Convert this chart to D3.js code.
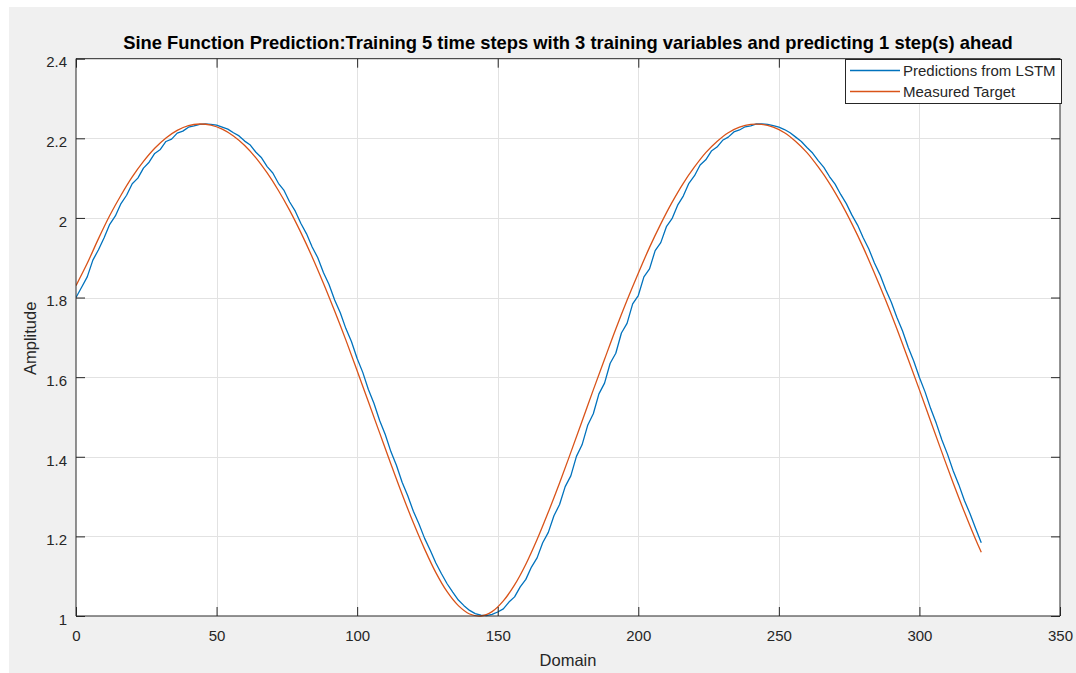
<!DOCTYPE html>
<html>
<head>
<meta charset="utf-8">
<script src="https://cdn.jsdelivr.net/npm/d3@7"></script>
<style>
  html, body { margin: 0; padding: 0; background: #ffffff; }
  svg { display: block; }
  text { font-family: "Liberation Sans", Arial, Helvetica, sans-serif; }
</style>
</head>
<body>
<svg id="chart" width="1076" height="673"></svg>
<script>
// ---------------- data ----------------
const titleText = "Sine Function Prediction:Training 5 time steps with 3 training variables and predicting 1 step(s) ahead";
const xLabel = "Domain";
const yLabel = "Amplitude";
const seriesNames = ["Predictions from LSTM", "Measured Target"];

const xTicks = [0, 50, 100, 150, 200, 250, 300, 350];
const yTicks = [1, 1.2, 1.4, 1.6, 1.8, 2, 2.2, 2.4];

// Measured target (smooth curve), sampled every 4 steps
const targetX = [0,4,8,12,16,20,24,28,32,36,40,44,48,52,56,60,64,68,72,76,80,84,88,92,96,100,
  104,108,112,116,120,124,128,132,136,140,144,148,152,156,160,164,168,172,176,180,184,188,192,196,200,
  204,208,212,216,220,224,228,232,236,240,244,248,252,256,260,264,268,272,276,280,284,288,292,296,300,
  304,308,312,316,320,322];
const targetY = [1.830,1.886,1.948,2.006,2.057,2.103,2.142,2.175,2.201,2.220,2.232,2.236,2.233,2.223,2.206,2.182,
  2.151,2.113,2.069,2.019,1.963,1.902,1.836,1.766,1.693,1.616,1.538,1.460,1.382,1.306,1.234,1.168,1.109,1.061,
  1.026,1.005,1.000,1.011,1.038,1.078,1.130,1.192,1.261,1.334,1.411,1.489,1.568,1.645,1.721,1.793,1.861,1.926,
  1.985,2.039,2.087,2.128,2.164,2.192,2.214,2.228,2.235,2.235,2.228,2.214,2.192,2.164,2.128,2.087,2.039,1.985,
  1.926,1.861,1.793,1.721,1.645,1.568,1.489,1.411,1.334,1.261,1.192,1.160];

// Predictions from LSTM (jagged), sampled every 2 steps
const predX = [0,2,4,6,8,10,12,14,16,18,20,22,24,26,28,30,32,34,36,38,40,42,44,46,48,50,52,54,56,58,60,
  62,64,66,68,70,72,74,76,78,80,82,84,86,88,90,92,94,96,98,100,102,104,106,108,110,112,114,116,118,120,
  122,124,126,128,130,132,134,136,138,140,142,144,146,148,150,152,154,156,158,160,162,164,166,168,170,
  172,174,176,178,180,182,184,186,188,190,192,194,196,198,200,202,204,206,208,210,212,214,216,218,220,
  222,224,226,228,230,232,234,236,238,240,242,244,246,248,250,252,254,256,258,260,262,264,266,268,270,
  272,274,276,278,280,282,284,286,288,290,292,294,296,298,300,302,304,306,308,310,312,314,316,318,320,322];
const predY = [1.800,1.826,1.852,1.894,1.920,1.950,1.984,2.005,2.036,2.057,2.086,2.100,2.125,2.140,2.162,2.172,
  2.192,2.198,2.213,2.218,2.228,2.231,2.235,2.236,2.235,2.233,2.228,2.223,2.214,2.206,2.193,2.183,2.165,2.151,
  2.129,2.113,2.087,2.069,2.040,2.017,1.986,1.960,1.927,1.900,1.863,1.833,1.794,1.762,1.722,1.689,1.647,1.612,
  1.569,1.534,1.491,1.456,1.413,1.378,1.336,1.302,1.263,1.231,1.195,1.165,1.133,1.106,1.081,1.060,1.040,1.026,
  1.014,1.006,1.002,1.001,1.004,1.010,1.018,1.035,1.048,1.073,1.092,1.123,1.146,1.184,1.210,1.252,1.280,1.325,
  1.352,1.401,1.430,1.479,1.508,1.558,1.585,1.635,1.660,1.711,1.735,1.784,1.805,1.852,1.872,1.918,1.938,1.978,
  1.998,2.032,2.055,2.087,2.106,2.133,2.146,2.168,2.178,2.195,2.203,2.216,2.221,2.229,2.231,2.236,2.236,2.235,
  2.232,2.228,2.222,2.214,2.203,2.192,2.177,2.163,2.144,2.127,2.104,2.085,2.059,2.036,2.007,1.982,1.950,1.922,
  1.887,1.857,1.820,1.788,1.750,1.716,1.675,1.640,1.599,1.563,1.521,1.484,1.442,1.406,1.365,1.330,1.290,1.257,
  1.220,1.184];

const colors = ["#0072BD", "#D95319"];

// ---------------- layout ----------------
const W = 1076, H = 673;
const plot = { left: 76, right: 1060, top: 58.7, bottom: 616 };
const axisColor = "#262626";
const gridColor = "#e2e2e2";
const tickLen = 9;

const svg = d3.select("#chart");

// figure background
svg.append("rect").attr("x", 9).attr("y", 7).attr("width", W - 9).attr("height", H - 7).attr("fill", "#f0f0f0");

const x = d3.scaleLinear().domain([0, 350]).range([plot.left, plot.right]);
const y = d3.scaleLinear().domain([1, 2.4]).range([plot.bottom, plot.top]);

// plot area
svg.append("rect")
  .attr("x", plot.left).attr("y", plot.top)
  .attr("width", plot.right - plot.left).attr("height", plot.bottom - plot.top)
  .attr("fill", "#ffffff");

// grid
const grid = svg.append("g").attr("stroke", gridColor).attr("stroke-width", 1).attr("shape-rendering", "crispEdges");
grid.selectAll("line.gx").data(xTicks.slice(1, -1)).join("line")
  .attr("x1", d => Math.round(x(d)) + 0.5).attr("x2", d => Math.round(x(d)) + 0.5)
  .attr("y1", plot.top).attr("y2", plot.bottom);
grid.selectAll("line.gy").data(yTicks.slice(1, -1)).join("line")
  .attr("x1", plot.left).attr("x2", plot.right)
  .attr("y1", d => Math.round(y(d)) + 0.5).attr("y2", d => Math.round(y(d)) + 0.5);

// series
const clipId = "plotclip";
svg.append("clipPath").attr("id", clipId).append("rect")
  .attr("x", plot.left).attr("y", plot.top - 2)
  .attr("width", plot.right - plot.left).attr("height", plot.bottom - plot.top + 4);

const predLine = d3.line().x(d => x(d[0])).y(d => y(d[1]));
const targetLine = d3.line().x(d => x(d[0])).y(d => y(d[1])).curve(d3.curveCatmullRom.alpha(0.5));

const seriesG = svg.append("g").attr("clip-path", `url(#${clipId})`);
seriesG.append("path")
  .datum(d3.zip(predX, predY))
  .attr("d", predLine)
  .attr("fill", "none").attr("stroke", colors[0]).attr("stroke-width", 1.3)
  .attr("stroke-linejoin", "round");
seriesG.append("path")
  .datum(d3.zip(targetX, targetY))
  .attr("d", targetLine)
  .attr("fill", "none").attr("stroke", colors[1]).attr("stroke-width", 1.3)
  .attr("stroke-linejoin", "round");

// axes (box with inward ticks on all four sides)
const fmt = d => String(+d.toFixed(1));
const tickFont = 15;

const axB = d3.axisBottom(x).tickValues(xTicks).tickSize(-tickLen).tickPadding(tickLen + 6).tickFormat(fmt);
const axT = d3.axisTop(x).tickValues(xTicks).tickSize(-tickLen).tickFormat("");
const axL = d3.axisLeft(y).tickValues(yTicks).tickSize(-tickLen).tickPadding(tickLen + 9).tickFormat(fmt);
const axR = d3.axisRight(y).tickValues(yTicks).tickSize(-tickLen).tickFormat("");

function styleAxis(g) {
  g.select(".domain").attr("stroke", axisColor).attr("stroke-width", 1);
  g.selectAll(".tick line").attr("stroke", axisColor).attr("stroke-width", 1);
  g.selectAll(".tick text").attr("fill", "#262626").attr("font-size", tickFont)
    .attr("font-family", "\"Liberation Sans\", Arial, Helvetica, sans-serif");
}

const gB = svg.append("g").attr("transform", `translate(0,${plot.bottom})`).call(axB).call(styleAxis);
gB.select(".domain").attr("d", `M${plot.left},0H${plot.right}`);
gB.selectAll(".tick text").attr("dy", "0.71em").attr("y", 14);

const gT = svg.append("g").attr("transform", `translate(0,${plot.top})`).call(axT).call(styleAxis);
gT.select(".domain").attr("d", `M${plot.left},0H${plot.right}`);

const gL = svg.append("g").attr("transform", `translate(${plot.left},0)`).call(axL).call(styleAxis);
gL.select(".domain").attr("d", `M0,${plot.top}V${plot.bottom}`);
gL.selectAll(".tick text").attr("dy", "0.55em").attr("x", -9);

const gR = svg.append("g").attr("transform", `translate(${plot.right},0)`).call(axR).call(styleAxis);
gR.select(".domain").attr("d", `M0,${plot.top}V${plot.bottom}`);

// axis labels
svg.append("text")
  .attr("x", (plot.left + plot.right) / 2).attr("y", 666)
  .attr("text-anchor", "middle").attr("font-size", 16.5).attr("fill", "#262626")
  .text(xLabel);
svg.append("text")
  .attr("transform", `translate(36,${(plot.top + plot.bottom) / 2 + 1}) rotate(-90)`)
  .attr("text-anchor", "middle").attr("font-size", 16.5).attr("fill", "#262626")
  .text(yLabel);

// title
const title = svg.append("text")
  .attr("x", (plot.left + plot.right) / 2).attr("y", 49)
  .attr("text-anchor", "middle").attr("font-size", 16.5).attr("font-weight", "bold").attr("fill", "#000000")
  .text(titleText);
const tw = title.node().getComputedTextLength();
if (tw > 0) title.attr("font-size", (16.5 * 890 / tw).toFixed(2));

// legend
const legend = { x: 845, y: 59, w: 216, h: 44 };
const lg = svg.append("g");
lg.append("rect")
  .attr("x", legend.x + 0.5).attr("y", legend.y + 0.5)
  .attr("width", legend.w).attr("height", legend.h)
  .attr("fill", "#ffffff").attr("stroke", axisColor).attr("stroke-width", 1);
const rowsY = [70.5, 91.5];
seriesNames.forEach((name, i) => {
  lg.append("line")
    .attr("x1", 850).attr("x2", 900).attr("y1", rowsY[i]).attr("y2", rowsY[i])
    .attr("stroke", colors[i]).attr("stroke-width", 1.3);
  lg.append("text")
    .attr("x", 903).attr("y", rowsY[i] + 5.3)
    .attr("font-size", 15).attr("fill", "#262626")
    .text(name);
});
</script>
</body>
</html>
